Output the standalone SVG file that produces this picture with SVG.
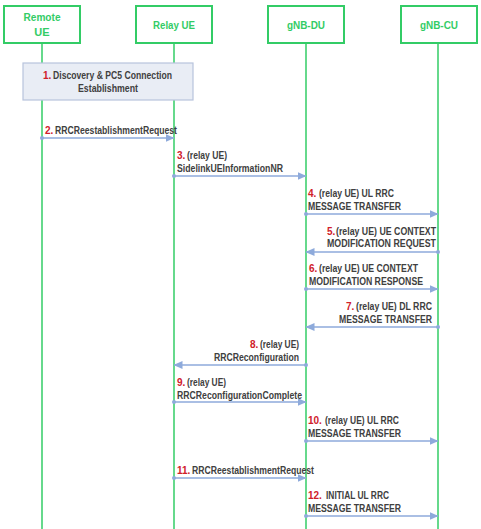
<svg xmlns="http://www.w3.org/2000/svg" width="481" height="529" viewBox="0 0 481 529">
<style>
.hdr{fill:#fff;stroke:#33cc66;stroke-width:2}
.htx{font-family:"Liberation Sans",Arial,sans-serif;font-weight:bold;font-size:11px;fill:#33cc66;text-anchor:middle}
.life{stroke:#33cc66;stroke-width:1.5}
.msg{stroke:#8eaadb;stroke-width:1.5;fill:none}
.dot{fill:#8eaadb}
.t{font-family:"Liberation Sans",Arial,sans-serif;font-weight:bold;font-size:10px;fill:#404040}
.n{font-family:"Liberation Sans",Arial,sans-serif;font-weight:bold;font-size:10px;fill:#d0202a}
</style>
<defs>
<marker id="ah" markerWidth="9" markerHeight="8" refX="8.5" refY="4" orient="auto" markerUnits="userSpaceOnUse">
<path d="M0,0 L9,4 L0,8 Z" fill="#8eaadb"/>
</marker>
</defs>
<g id="lifelines">
<line class="life" x1="42" y1="43" x2="42" y2="529"/>
<line class="life" x1="174" y1="43" x2="174" y2="529"/>
<line class="life" x1="306" y1="43" x2="306" y2="529"/>
<line class="life" x1="438" y1="43" x2="438" y2="529"/>
</g>
<g id="remote-ue"><rect class="hdr" x="4" y="6" width="76" height="37"/><text class="htx" x="42" y="21" textLength="37" lengthAdjust="spacingAndGlyphs">Remote</text><text class="htx" x="42" y="36">UE</text></g>
<g id="relay-ue"><rect class="hdr" x="136" y="6" width="76" height="37"/><text class="htx" x="174" y="29" textLength="42" lengthAdjust="spacingAndGlyphs">Relay UE</text></g>
<g id="gnb-du"><rect class="hdr" x="268" y="6" width="76" height="37"/><text class="htx" x="306" y="29" textLength="38" lengthAdjust="spacingAndGlyphs">gNB-DU</text></g>
<g id="gnb-cu"><rect class="hdr" x="401" y="6" width="76" height="37"/><text class="htx" x="439" y="29" textLength="38" lengthAdjust="spacingAndGlyphs">gNB-CU</text></g>
<g id="step1">
<rect x="23" y="63" width="170" height="37" fill="#e9edf5" stroke="#b8c4dc" stroke-width="1.2"/>
<text class="n" x="43" y="79">1.</text>
<text class="t" x="53" y="79" textLength="119" lengthAdjust="spacingAndGlyphs">Discovery &amp; PC5 Connection</text>
<text class="t" x="78" y="92" textLength="60" lengthAdjust="spacingAndGlyphs">Establishment</text>
</g>
<g id="connectors">
<circle class="dot" cx="42" cy="138" r="2"/><line class="msg" x1="42" y1="138" x2="174" y2="138" marker-end="url(#ah)"/>
<circle class="dot" cx="174" cy="176" r="2"/><line class="msg" x1="174" y1="176" x2="306" y2="176" marker-end="url(#ah)"/>
<circle class="dot" cx="306" cy="214" r="2"/><line class="msg" x1="306" y1="214" x2="438" y2="214" marker-end="url(#ah)"/>
<circle class="dot" cx="438" cy="252" r="2"/><line class="msg" x1="438" y1="252" x2="306" y2="252" marker-end="url(#ah)"/>
<circle class="dot" cx="306" cy="289" r="2"/><line class="msg" x1="306" y1="289" x2="438" y2="289" marker-end="url(#ah)"/>
<circle class="dot" cx="438" cy="327" r="2"/><line class="msg" x1="438" y1="327" x2="306" y2="327" marker-end="url(#ah)"/>
<circle class="dot" cx="306" cy="365" r="2"/><line class="msg" x1="306" y1="365" x2="174" y2="365" marker-end="url(#ah)"/>
<circle class="dot" cx="174" cy="402" r="2"/><line class="msg" x1="174" y1="402" x2="306" y2="402" marker-end="url(#ah)"/>
<circle class="dot" cx="306" cy="441" r="2"/><line class="msg" x1="306" y1="441" x2="438" y2="441" marker-end="url(#ah)"/>
<circle class="dot" cx="174" cy="478" r="2"/><line class="msg" x1="174" y1="478" x2="306" y2="478" marker-end="url(#ah)"/>
<circle class="dot" cx="306" cy="516" r="2"/><line class="msg" x1="306" y1="516" x2="438" y2="516" marker-end="url(#ah)"/>
</g>
<g id="labels">
<text class="n" x="45" y="134">2.</text>
<text class="t" x="55" y="134" textLength="122" lengthAdjust="spacingAndGlyphs">RRCReestablishmentRequest</text>
<text class="n" x="177" y="159">3.</text>
<text class="t" x="187" y="159" textLength="40" lengthAdjust="spacingAndGlyphs">(relay UE)</text>
<text class="t" x="177" y="172" textLength="106" lengthAdjust="spacingAndGlyphs">SidelinkUEInformationNR</text>
<text class="n" x="308" y="197">4.</text>
<text class="t" x="319" y="197" textLength="75" lengthAdjust="spacingAndGlyphs">(relay UE) UL RRC</text>
<text class="t" x="308" y="210" textLength="93" lengthAdjust="spacingAndGlyphs">MESSAGE TRANSFER</text>
<text class="n" x="327" y="235">5.</text>
<text class="t" x="336" y="235" textLength="100" lengthAdjust="spacingAndGlyphs">(relay UE) UE CONTEXT</text>
<text class="t" x="327" y="247" textLength="109" lengthAdjust="spacingAndGlyphs">MODIFICATION REQUEST</text>
<text class="n" x="309" y="272">6.</text>
<text class="t" x="319" y="272" textLength="99" lengthAdjust="spacingAndGlyphs">(relay UE) UE CONTEXT</text>
<text class="t" x="309" y="285" textLength="114" lengthAdjust="spacingAndGlyphs">MODIFICATION RESPONSE</text>
<text class="n" x="346" y="310">7.</text>
<text class="t" x="356" y="310" textLength="76" lengthAdjust="spacingAndGlyphs">(relay UE) DL RRC</text>
<text class="t" x="339" y="323" textLength="93" lengthAdjust="spacingAndGlyphs">MESSAGE TRANSFER</text>
<text class="n" x="250" y="348">8.</text>
<text class="t" x="260" y="348" textLength="39" lengthAdjust="spacingAndGlyphs">(relay UE)</text>
<text class="t" x="214" y="361" textLength="85" lengthAdjust="spacingAndGlyphs">RRCReconfiguration</text>
<text class="n" x="177" y="386">9.</text>
<text class="t" x="187" y="386" textLength="39" lengthAdjust="spacingAndGlyphs">(relay UE)</text>
<text class="t" x="177" y="399" textLength="125" lengthAdjust="spacingAndGlyphs">RRCReconfigurationComplete</text>
<text class="n" x="308" y="424">10.</text>
<text class="t" x="325" y="424" textLength="74" lengthAdjust="spacingAndGlyphs">(relay UE) UL RRC</text>
<text class="t" x="308" y="437" textLength="93" lengthAdjust="spacingAndGlyphs">MESSAGE TRANSFER</text>
<text class="n" x="177" y="474">11.</text>
<text class="t" x="192" y="474" textLength="122" lengthAdjust="spacingAndGlyphs">RRCReestablishmentRequest</text>
<text class="n" x="308" y="499">12.</text>
<text class="t" x="326" y="499" textLength="63" lengthAdjust="spacingAndGlyphs">INITIAL UL RRC</text>
<text class="t" x="308" y="512" textLength="93" lengthAdjust="spacingAndGlyphs">MESSAGE TRANSFER</text>
</g>
</svg>
